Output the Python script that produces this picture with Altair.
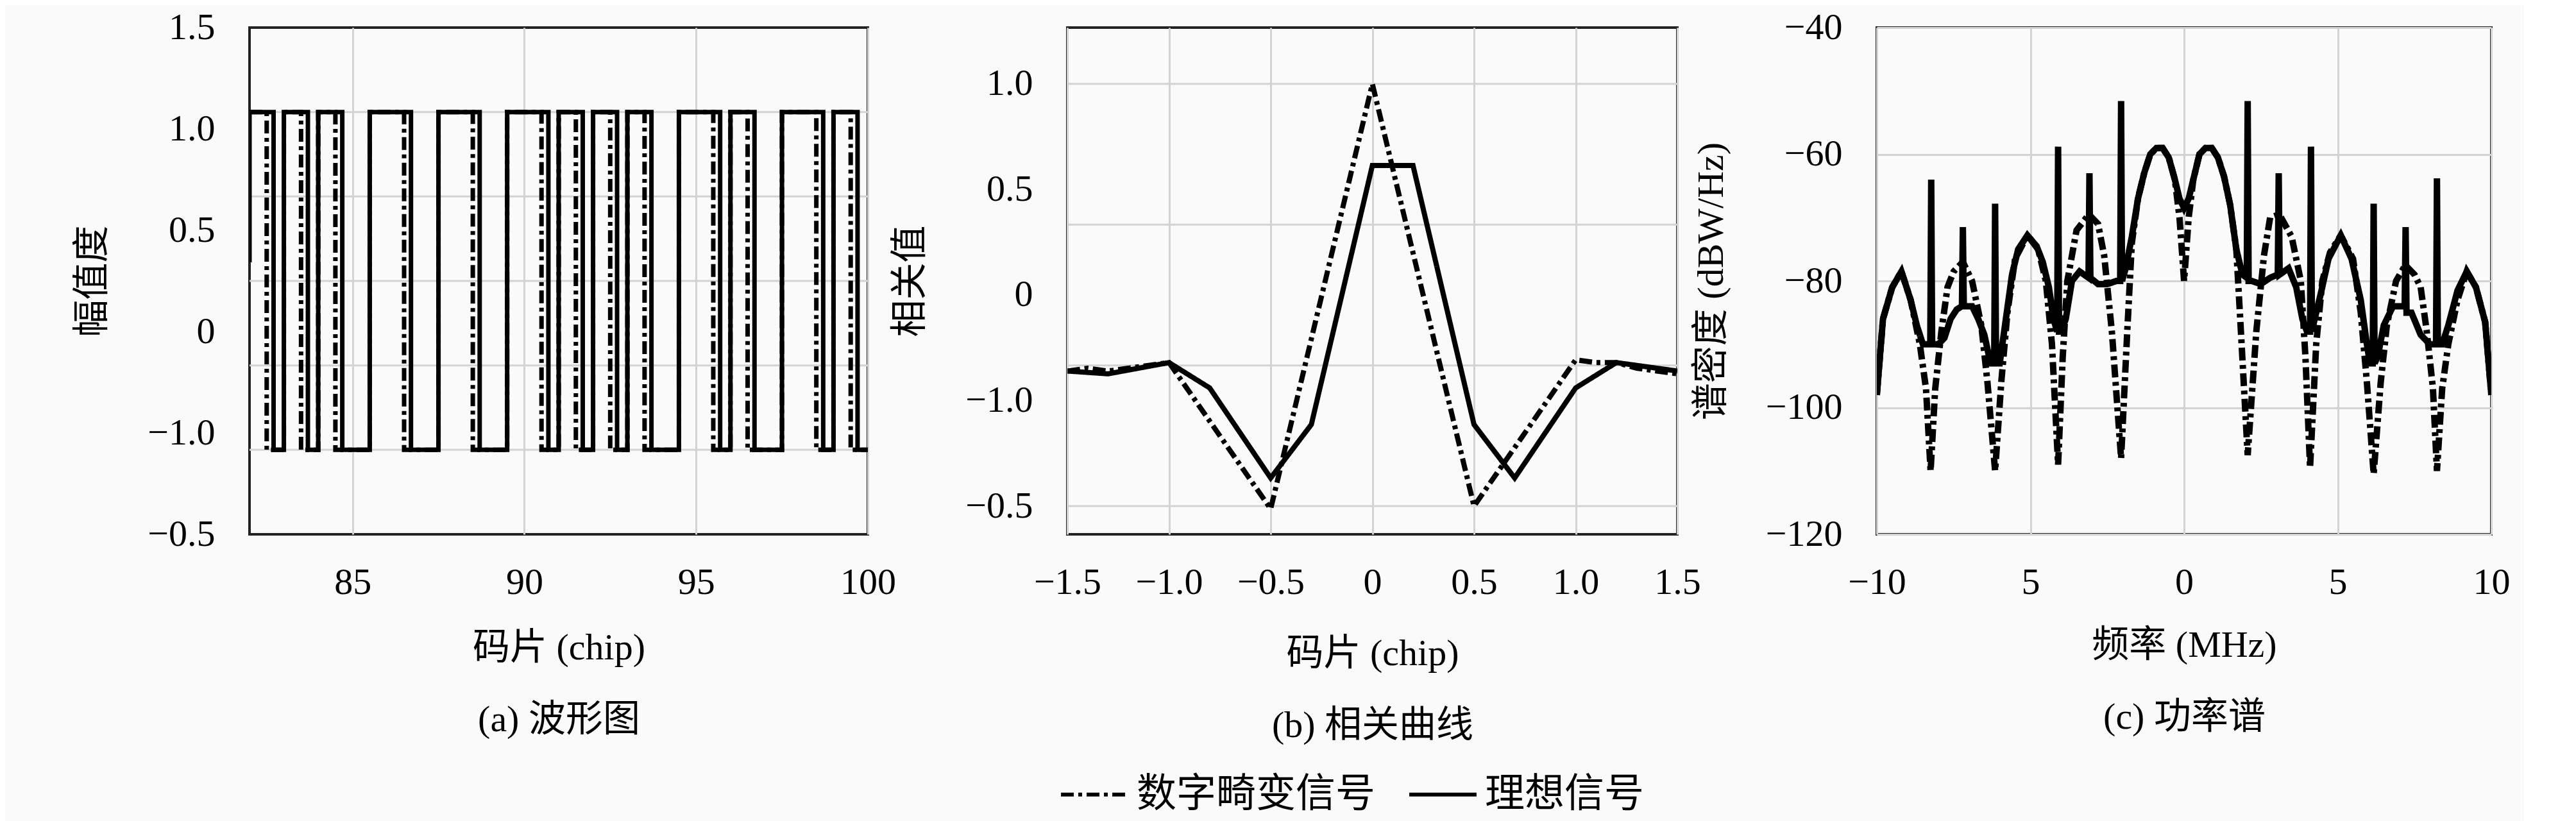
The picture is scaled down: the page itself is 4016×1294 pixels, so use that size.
import altair as alt
import pandas as pd

FONT = "Liberation Serif, Noto Sans CJK SC"
CJK = "Noto Sans CJK SC"
S_DIST = "数字畸变信号"
S_IDEAL = "理想信号"
SERIES = [S_DIST, S_IDEAL]
DASHES = [[20, 7, 6, 7], [1, 0]]

# ---------------- (a) waveform ----------------
a_x_domain = [82, 100]
a_y_domain = [-1.5, 1.5]
a_high, a_low = 1.0, -1.0
a_rise = [83.0, 84.0, 85.5, 87.5, 89.5, 91.0, 92.0, 93.0, 94.5, 96.0, 97.5, 99.0]
a_fall_dashed = [82.5, 83.5, 84.5, 86.5, 88.5, 90.5, 91.5, 92.5, 93.5, 95.5, 96.5, 98.5, 99.5]
a_fall_solid = [82.7, 83.7, 84.7, 86.7, 88.7, 90.7, 91.7, 92.7, 93.7, 95.7, 96.7, 98.7, 99.7]
a_start_dashed = 1.0
a_start_solid = 0.11
a_xticks = [85, 90, 95, 100]
a_ylabel_pos = [1.5, 0.9, 0.3, -0.3, -0.9, -1.5]
a_ylabel_txt = ["1.5", "1.0", "0.5", "0", "−1.0", "−0.5"]
a_grid_y = [-1.0, -0.5, 0.0, 0.5, 1.0]

# ---------------- (b) correlation ----------------
b_x_dashed = [-1.5, -1.4, -1.3, -1.2, -1.1, -1.0, -0.5, 0.0, 0.5, 1.0, 1.1, 1.2, 1.3, 1.4, 1.5]
b_y_dashed = [-0.02, -0.01, -0.02, -0.01, 0.0, 0.01, -0.51, 1.0, -0.5, 0.02, 0.01, 0.01, -0.01, -0.02, -0.03]
b_x_solid = [-1.5, -1.3, -1.0, -0.8, -0.5, -0.3, 0.0, 0.2, 0.5, 0.7, 1.0, 1.2, 1.5]
b_y_solid = [-0.02, -0.03, 0.01, -0.08, -0.40, -0.21, 0.71, 0.71, -0.21, -0.40, -0.08, 0.01, -0.02]
b_x_domain = [-1.5, 1.5]
b_y_domain = [-0.6, 1.2]
b_xticks = [-1.5, -1.0, -0.5, 0.0, 0.5, 1.0, 1.5]
b_xtick_txt = ["−1.5", "−1.0", "−0.5", "0", "0.5", "1.0", "1.5"]
b_ylabel_pos = [1.0, 0.625, 0.25, -0.125, -0.5]
b_ylabel_txt = ["1.0", "0.5", "0", "−1.0", "−0.5"]
b_grid_y = [-0.5, 0.0, 0.5, 1.0]

# ---------------- (c) power spectrum ----------------
c_x_solid = [-10.0, -9.8, -9.5, -9.2, -8.9, -8.7, -8.5, -8.26, -8.23, -8.2, -8.0, -7.8, -7.6, -7.4,
             -7.23, -7.2, -7.17, -6.9, -6.7, -6.5, -6.3, -6.18, -6.15, -6.12, -6.0, -5.8, -5.6, -5.4,
             -5.1, -4.8, -4.6, -4.4, -4.25, -4.13, -4.1, -4.07, -4.0, -3.85, -3.65, -3.4, -3.11, -3.08,
             -3.05, -2.8, -2.5, -2.2, -2.08, -2.05, -2.02, -1.9, -1.7, -1.5, -1.3, -1.1, -0.9, -0.7,
             -0.5, -0.3, -0.15, 0.0, 0.15, 0.3, 0.5, 0.7, 0.9, 1.1, 1.3, 1.5, 1.7, 1.9, 2.04, 2.07,
             2.1, 2.2, 2.5, 2.8, 3.05, 3.08, 3.11, 3.4, 3.65, 3.85, 4.0, 4.1, 4.13, 4.16, 4.25, 4.45,
             4.7, 5.1, 5.45, 5.75, 5.95, 6.05, 6.14, 6.17, 6.2, 6.3, 6.5, 6.8, 7.0, 7.18, 7.21, 7.24,
             7.4, 7.7, 8.0, 8.2, 8.23, 8.26, 8.4, 8.6, 8.9, 9.2, 9.5, 9.8, 10.0]
c_y_solid = [-98, -86, -81, -78.5, -83, -87, -90, -90, -64, -90, -90, -89, -86, -84.5,
             -84, -71.5, -84, -84, -86, -88.5, -93, -93, -67.8, -93, -93, -86, -79, -75,
             -72.8, -74.5, -77, -81, -86, -88, -58.8, -88, -88, -86, -80, -78.5, -79.5, -63,
             -79.5, -80.5, -80.5, -80, -80, -51.6, -80, -78, -73, -67, -63, -60, -59, -59,
             -60.5, -64, -67, -68.5, -67, -64, -60, -59, -59, -60.5, -63.5, -68, -75, -79, -79.5, -51.6,
             -80, -80, -80.5, -79.5, -79, -63, -79, -78, -81, -86, -88, -88, -58.8, -88, -86, -82,
             -76.5, -72.8, -76.5, -83, -90, -93, -93, -67.8, -93, -92, -87, -84, -84, -84, -71.5, -85,
             -85, -88.5, -90, -90, -63.8, -90, -90, -87, -81.5, -78.5, -81, -86.5, -98]
c_x_dashed = [-10.0, -9.8, -9.5, -9.2, -8.9, -8.6, -8.4, -8.25, -8.1, -7.9, -7.7, -7.5, -7.2, -6.9,
              -6.6, -6.4, -6.15, -5.95, -5.75, -5.5, -5.1, -4.75, -4.5, -4.3, -4.1, -3.95, -3.8,
              -3.5, -3.1, -2.8, -2.6, -2.35, -2.05, -1.85, -1.7, -1.5, -1.3, -1.1, -0.9, -0.7, -0.5,
              -0.3, -0.15, 0.0, 0.15, 0.3, 0.5, 0.7, 0.9, 1.1, 1.3, 1.5, 1.7, 1.85, 2.07, 2.35, 2.6,
              2.8, 3.1, 3.5, 3.8, 3.95, 4.1, 4.3, 4.5, 4.75, 5.1, 5.5, 5.75, 5.95, 6.17, 6.4, 6.6,
              6.9, 7.2, 7.5, 7.7, 7.9, 8.1, 8.23, 8.4, 8.6, 8.9, 9.2, 9.5, 9.8, 10.0]
c_y_dashed = [-98, -86, -81, -78.5, -83, -90, -97, -110, -97, -88, -81, -78.5, -77, -80,
              -87, -96, -110, -96, -85, -76.5, -72.8, -75, -80, -90, -109, -92, -80,
              -72, -69.5, -71, -76, -88, -108, -88, -74, -67, -63, -60, -59, -59, -60.5,
              -64, -70, -80, -70, -64, -60, -59, -59, -60.5, -63.5, -68, -75, -88, -107.5, -88, -76,
              -70, -69.5, -73, -80, -92, -109.5, -90, -80, -75.5, -72.8, -76.5, -85, -96, -110.5, -96, -87,
              -80, -77.5, -79, -81, -88, -97, -110, -97, -90, -83, -78.5, -81, -86.5, -98]
c_x_domain = [-10, 10]
c_y_domain = [-120, -40]
c_xticks = [-10, -5, 0, 5, 10]
c_xtick_txt = ["−10", "5", "0", "5", "10"]
c_yticks = [-40, -60, -80, -100, -120]
c_ytick_txt = ["−40", "−60", "−80", "−100", "−120"]

GRID = "#d3d3d3"
W_A, W_B, W_C, H = 964, 951, 958, 790


def lab_expr(pos, txt):
    expr = "''"
    for p, t in zip(pos, txt):
        expr = f"abs(datum.value - ({p})) < 1e-6 ? '{t}' : " + expr
    return expr


def wave(start, falls, rises, series):
    edges = sorted([(t, a_low) for t in falls] + [(t, a_high) for t in rises])
    pts = [(a_x_domain[0], start), (a_x_domain[0], a_high)]
    level = a_high
    for t, new in edges:
        pts.append((t, level))
        pts.append((t, new))
        level = new
    pts.append((a_x_domain[1], level))
    return pd.DataFrame({"x": [p[0] for p in pts], "y": [p[1] for p in pts],
                         "o": list(range(len(pts))), "s": series})


def series_df(xs, ys, series):
    return pd.DataFrame({"x": xs, "y": ys, "o": list(range(len(xs))), "s": series})


def dash_enc(show_legend):
    if show_legend:
        leg = alt.Legend(title=None, orient="none", legendX=1262, legendY=1140,
                         direction="horizontal", symbolType="stroke", symbolSize=11000,
                         symbolStrokeWidth=6, symbolStrokeColor="black",
                         labelFont=CJK, labelFontSize=62, labelColor="black",
                         labelOffset=10, columnPadding=40, labelLimit=1000)
    else:
        leg = None
    return alt.StrokeDash("s:N", scale=alt.Scale(domain=SERIES, range=DASHES), legend=leg)


def xaxis(values, expr, title, title_y):
    return alt.Axis(values=values, labelExpr=expr, title=title, grid=True, ticks=False,
                    domain=False, labelFlush=False, labelPadding=46, titleBaseline="top",
                    titleY=title_y, titleLineHeight=112)


def yaxis(values, expr, title, title_x, grid):
    return alt.Axis(values=values, labelExpr=expr, title=title, grid=grid, ticks=False,
                    domain=False, labelPadding=54, titleAngle=270, titleBaseline="middle",
                    titleX=title_x, titleY=H / 2)


def panel(lines, width, xdom, ydom, xax, yax, grid_y, stroke_w, legend):
    xs = alt.Scale(domain=xdom, nice=False, zero=False)
    ys = alt.Scale(domain=ydom, nice=False, zero=False)
    layers = []
    if grid_y is not None:
        g = alt.Chart(pd.DataFrame({"y": grid_y})).mark_rule(color=GRID, strokeWidth=3).encode(
            y=alt.Y("y:Q", scale=ys, axis=yax))
        layers.append(g)
    ln = alt.Chart(lines).mark_line(color="black", strokeWidth=stroke_w, clip=True).encode(
        x=alt.X("x:Q", scale=xs, axis=xax),
        y=alt.Y("y:Q", scale=ys, axis=yax),
        detail="s:N",
        order="o:Q",
        strokeDash=dash_enc(legend),
    )
    layers.append(ln)
    return alt.layer(*layers).properties(width=width, height=H)


df_a = pd.concat([wave(a_start_solid, a_fall_solid, a_rise, S_IDEAL),
                  wave(a_start_dashed, a_fall_dashed, a_rise, S_DIST)])
df_b = pd.concat([series_df(b_x_solid, b_y_solid, S_IDEAL),
                  series_df(b_x_dashed, b_y_dashed, S_DIST)])
df_c = pd.concat([series_df(c_x_solid, c_y_solid, S_IDEAL),
                  series_df(c_x_dashed, c_y_dashed, S_DIST)])

pa = panel(df_a, W_A, a_x_domain, a_y_domain,
           xaxis(a_xticks, "'' + datum.value", ["码片 (chip)", "(a) 波形图"], 148),
           yaxis(a_ylabel_pos, lab_expr(a_ylabel_pos, a_ylabel_txt), "幅值度", -245, False),
           a_grid_y, 7, True)
pb = panel(df_b, W_B, b_x_domain, b_y_domain,
           xaxis(b_xticks, lab_expr(b_xticks, b_xtick_txt), ["码片 (chip)", "(b) 相关曲线"], 157),
           yaxis(b_ylabel_pos, lab_expr(b_ylabel_pos, b_ylabel_txt), "相关值", -245, False),
           b_grid_y, 8, False)
pc = panel(df_c, W_C, c_x_domain, c_y_domain,
           xaxis(c_xticks, lab_expr(c_xticks, c_xtick_txt), ["频率 (MHz)", "(c) 功率谱"], 144),
           yaxis(c_yticks, lab_expr(c_yticks, c_ytick_txt), "谱密度 (dBW/Hz)", -258, True),
           None, 10, False)

chart = alt.hconcat(pa, pb, pc, spacing=311, bounds="flush").resolve_scale(
    strokeDash="shared"
).properties(
    padding={"left": 105, "top": 4, "right": 20, "bottom": 10},
    background="#fafafa",
).configure_view(
    stroke="#222222", strokeWidth=4
).configure_axis(
    labelFont=FONT, labelFontSize=58, labelColor="black",
    titleFont=FONT, titleFontSize=58, titleFontWeight="normal", titleColor="black",
    gridColor=GRID, gridWidth=3,
)

chart.save("out.html", embed_options={"renderer": "svg", "actions": False})
